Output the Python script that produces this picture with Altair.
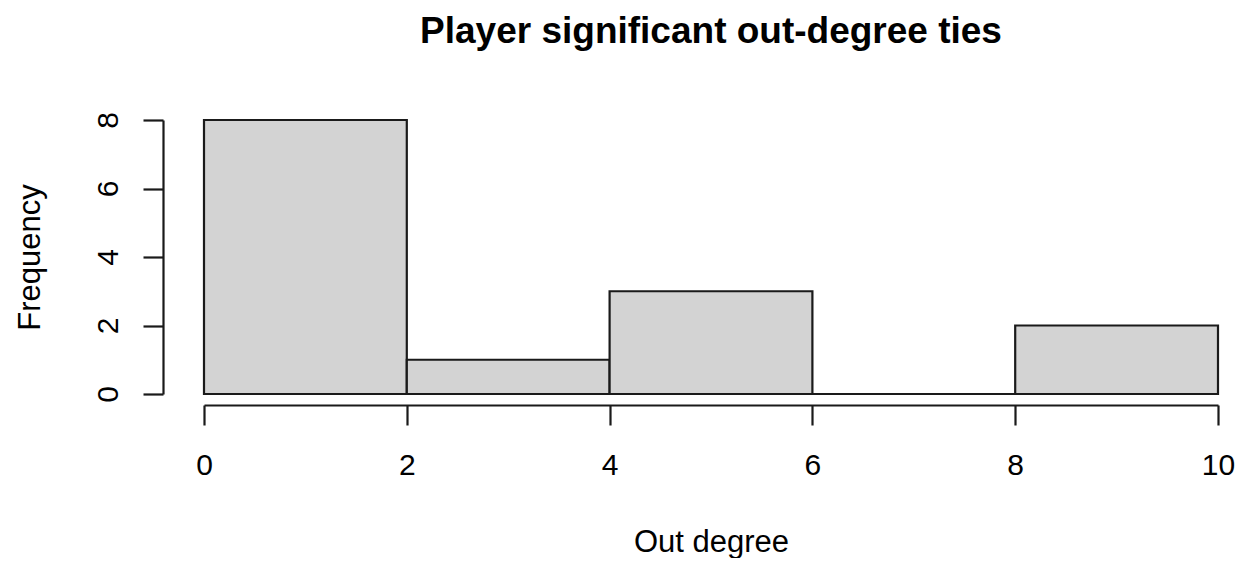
import altair as alt
import pandas as pd

bin_start = [0, 2, 4, 6, 8]
bin_end = [2, 4, 6, 8, 10]
counts = [8, 1, 3, 0, 2]
x_ticks = [0, 2, 4, 6, 8, 10]
y_ticks = [0, 2, 4, 6, 8]

df = pd.DataFrame({"start": bin_start, "end": bin_end, "count": counts,
                   "base": [0] * len(counts)})

FONT = "Liberation Sans"

chart = alt.Chart(df).mark_rect(
    fill="#D3D3D3", stroke="#1a1a1a", strokeWidth=2.2
).encode(
    x=alt.X("start:Q",
            scale=alt.Scale(domain=[0, 10], nice=False, zero=False),
            axis=alt.Axis(values=x_ticks, title="Out degree", offset=11,
                          labelBaseline="top", labelAlign="center", labelPadding=25,
                          titleX=507, titleY=146, titleBaseline="alphabetic",
                          titleAlign="center")),
    x2="end:Q",
    y=alt.Y("count:Q",
            scale=alt.Scale(domain=[0, 8], nice=False),
            axis=alt.Axis(values=y_ticks, title="Frequency", offset=41,
                          labelAngle=270, labelAlign="center",
                          labelBaseline="alphabetic", labelPadding=26,
                          titleAngle=270, titleX=-124, titleY=137,
                          titleBaseline="alphabetic", titleAlign="center")),
    y2="base:Q",
).properties(
    width=1014,
    height=274,
    autosize=alt.AutoSizeParams(type="none"),
    padding={"left": 196, "top": 112, "right": 20, "bottom": 164},
    title=alt.TitleParams("Player significant out-degree ties", font=FONT,
                          fontSize=37, fontWeight="bold", color="#000000",
                          anchor="middle", baseline="alphabetic", offset=32),
).configure_view(
    stroke=None
).configure_axis(
    grid=False,
    domainColor="#1a1a1a", domainWidth=2.2,
    tickColor="#1a1a1a", tickWidth=2.2, tickSize=20,
    labelFont=FONT, labelFontSize=30, labelColor="#000000",
    titleFont=FONT, titleFontSize=31, titleFontWeight="normal", titleColor="#000000",
    labelOverlap=False, labelFlush=False,
)

chart.save("out.html", embed_options={"renderer": "svg", "actions": False})
